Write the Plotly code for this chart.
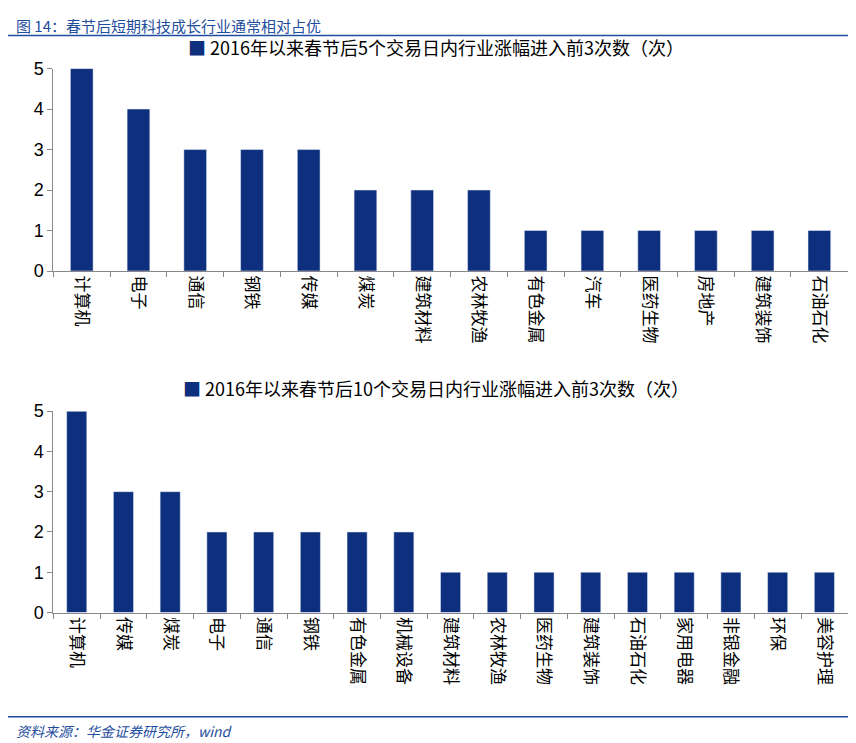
import plotly.graph_objects as go

cats1 = ["计算机","电子","通信","钢铁","传媒","煤炭","建筑材料","农林牧渔","有色金属","汽车","医药生物","房地产","建筑装饰","石油石化"]
vals1 = [5,4,3,3,3,2,2,2,1,1,1,1,1,1]
cats2 = ["计算机","传媒","煤炭","电子","通信","钢铁","有色金属","机械设备","建筑材料","农林牧渔","医药生物","建筑装饰","石油石化","家用电器","非银金融","环保","美容护理"]
vals2 = [5,3,3,2,2,2,2,2,1,1,1,1,1,1,1,1,1]
yticks = [0,1,2,3,4,5]
legend1 = "2016年以来春节后5个交易日内行业涨幅进入前3次数（次）"
legend2 = "2016年以来春节后10个交易日内行业涨幅进入前3次数（次）"

BLUE = "#0d2f7e"
FONT = "Noto Sans CJK SC"
H = 743
fig = go.Figure()
fig.add_bar(x=cats1, y=vals1, marker_color=BLUE, width=0.4, xaxis="x", yaxis="y", showlegend=False)
fig.add_bar(x=cats2, y=vals2, marker_color=BLUE, width=0.43, xaxis="x2", yaxis="y2", showlegend=False)

ax = dict(showline=True, linecolor="#888", ticks="outside", tickson="boundaries", ticklen=5,
          tickcolor="#888", tickfont=dict(size=17, family=FONT, color="#000"), showgrid=False, tickangle=90)
ay = dict(showline=True, linecolor="#888", ticks="outside", ticklen=5, tickcolor="#888",
          tickvals=yticks, range=[0,5], showgrid=False, zeroline=False,
          tickfont=dict(size=18, family="Arial", color="#000"))
fig.update_layout(
    width=856, height=H, margin=dict(l=0,r=0,t=0,b=0), paper_bgcolor="white", plot_bgcolor="white",
    xaxis=dict(ax, domain=[0.053,0.981], anchor="y"),
    yaxis=dict(ay, domain=[1-260/H, 1-52/H], anchor="x"),
    xaxis2=dict(ax, domain=[0.053,0.981], anchor="y2"),
    yaxis2=dict(ay, domain=[1-611/H, 1-404/H], anchor="x2"),
)
ann = [
    dict(text="图 14：春节后短期科技成长行业通常相对占优", x=6/856, y=1-8/H, xanchor="left", yanchor="middle",
         font=dict(size=15, family=FONT, color="#1f4e9e")),
    dict(text="<i>资料来源：华金证券研究所，wind</i>", x=6/856, y=1-733/H, xanchor="left", yanchor="middle",
         font=dict(size=14, family=FONT, color="#1f4e9e")),
    dict(text="<span style='color:%s'>■</span> %s" % (BLUE, legend1), x=0.5, y=1-30/H, xanchor="center",
         yanchor="middle", font=dict(size=18, family=FONT, color="#000")),
    dict(text="<span style='color:%s'>■</span> %s" % (BLUE, legend2), x=0.5, y=1-380/H, xanchor="center",
         yanchor="middle", font=dict(size=18, family=FONT, color="#000")),
]
for a in ann:
    a.update(xref="paper", yref="paper", showarrow=False)
fig.update_layout(annotations=ann, shapes=[
    dict(type="line", xref="paper", yref="paper", x0=0, x1=1, y0=1-18/H, y1=1-18/H, line=dict(color="#1f4e9e", width=1.5)),
    dict(type="line", xref="paper", yref="paper", x0=0, x1=1, y0=1-718/H, y1=1-718/H, line=dict(color="#1f4e9e", width=1.5)),
])
fig.write_html("out.html")
